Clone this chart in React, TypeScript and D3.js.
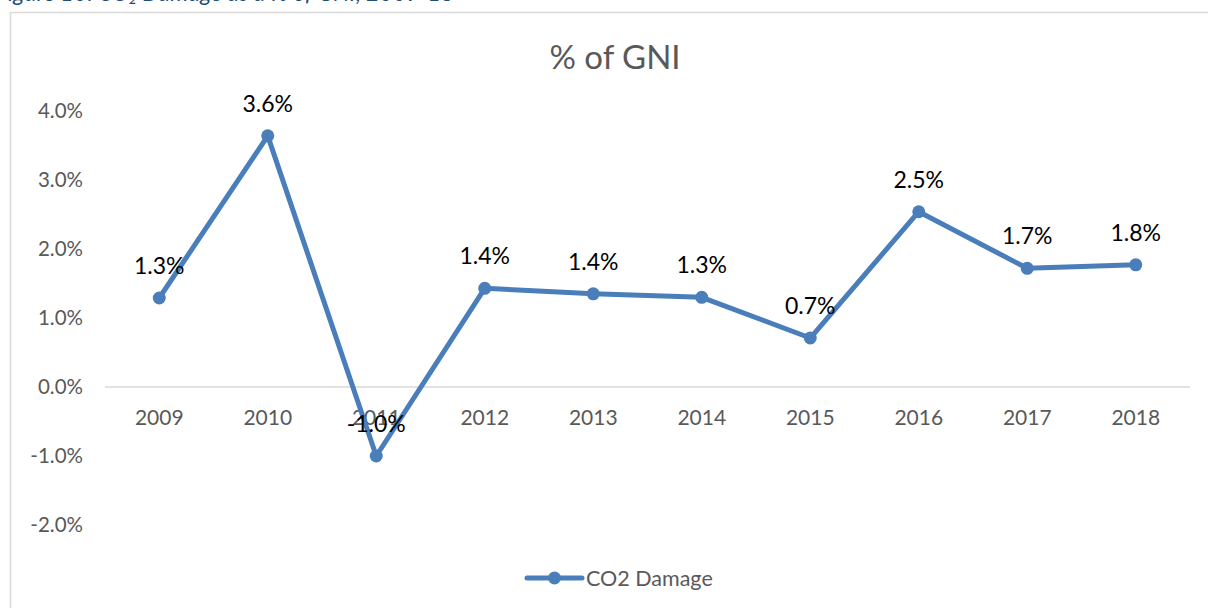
import React from 'react';
import * as d3 from 'd3';

const years = ['2009', '2010', '2011', '2012', '2013', '2014', '2015', '2016', '2017', '2018'];
const damage = [1.29, 3.64, -1.0, 1.43, 1.35, 1.3, 0.71, 2.54, 1.72, 1.77];
const labels = ['1.3%', '3.6%', '-1.0%', '1.4%', '1.4%', '1.3%', '0.7%', '2.5%', '1.7%', '1.8%'];
const yTicks = [-2, -1, 0, 1, 2, 3, 4];

const W = 1208;
const H = 608;
const FONT = 'Lato, "Open Sans", sans-serif';
const BLUE = '#4a7ebb';

const App = () => {
  const x = d3.scaleBand().domain(years).range([105, 1190]);
  const y = d3.scaleLinear().domain([-2, 4]).range([525, 111]);
  const cx = (i: number) => x(years[i])! + x.bandwidth() / 2;

  const line = d3.line<number>()
    .x((_, i) => cx(i))
    .y(d => y(d));

  return (
    <svg width={W} height={H} style={{ position: 'absolute', left: 0, top: 0, background: '#fff' }}>
      {/* cut-off figure caption */}
      <text x={-4} y={1} fontFamily={FONT} fontStyle="italic" fontSize={23} fill="#1f4e79">
        Figure 10: CO₂ Damage as a % of GNI, 2009-18
      </text>
      <rect x={10.5} y={12.5} width={W} height={H} fill="none" stroke="#d9d9d9" strokeWidth={1.5} />

      <text x={615} y={69} textAnchor="middle" fontFamily={FONT} fontSize={33} fill="#595959">
        % of GNI
      </text>

      {yTicks.map(t => (
        <text key={t} x={83} y={y(t)} dy="0.35em" textAnchor="end" fontFamily={FONT} fontSize={20.5} fill="#595959">
          {t.toFixed(1) + '%'}
        </text>
      ))}

      <line x1={105} x2={1190} y1={y(0)} y2={y(0)} stroke="#d9d9d9" strokeWidth={1.5} />

      {years.map(yr => (
        <text key={yr} x={x(yr)! + x.bandwidth() / 2} y={y(0) + 31} dy="0.35em" textAnchor="middle"
          fontFamily={FONT} fontSize={21} fill="#595959">
          {yr}
        </text>
      ))}

      <path d={line(damage)!} fill="none" stroke={BLUE} strokeWidth={5} strokeLinejoin="round" />
      {damage.map((v, i) => (
        <circle key={i} cx={cx(i)} cy={y(v)} r={6.5} fill={BLUE} />
      ))}

      {damage.map((v, i) => (
        <text key={i} x={cx(i)} y={y(v) - 32} dy="0.35em" textAnchor="middle"
          fontFamily={FONT} fontSize={23} fill="#000">
          {labels[i]}
        </text>
      ))}

      <g transform="translate(527,578)">
        <line x1={0} x2={55} y1={0} y2={0} stroke={BLUE} strokeWidth={5} strokeLinecap="round" />
        <circle cx={27.5} cy={0} r={6.5} fill={BLUE} />
        <text x={59} y={0} dy="0.35em" fontFamily={FONT} fontSize={21.5} fill="#595959">CO2 Damage</text>
      </g>
    </svg>
  );
};

export default App;
